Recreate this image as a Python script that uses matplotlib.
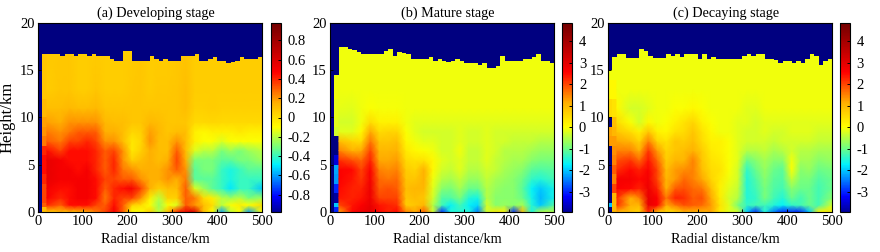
import numpy as np
import matplotlib
matplotlib.use('Agg')
import matplotlib.pyplot as plt
from matplotlib.colors import LinearSegmentedColormap

plt.rcParams['font.family'] = ['Liberation Serif', 'DejaVu Serif']
plt.rcParams['axes.unicode_minus'] = False

N = np.nan
titles = ['(a) Developing stage', '(b) Mature stage', '(c) Decaying stage']

# cell edges of the tables below
x_edges = [0, 10, 20, 40, 60, 80, 100, 120, 140, 160, 180, 200, 220, 240, 260, 280,
           300, 320, 340, 360, 380, 400, 420, 440, 460, 480, 500]
y_edges = [0, 0.5, 1, 2, 3, 4, 5, 6, 7, 8, 9, 10, 12, 14, 18]

# echo top for every 10 km column
top_a = [0, 16.7, 16.7, 16.7, 16.7, 16.5, 16.7, 16.7, 16.5, 16.7,
         16.7, 16.5, 16.7, 16.5, 16.5, 16.5, 16.2, 16.0, 16.0, 17.0,
         17.0, 16.0, 16.0, 16.0, 16.0, 16.5, 16.2, 16.0, 16.2, 16.0,
         16.0, 16.0, 16.5, 16.5, 16.5, 16.7, 16.0, 16.0, 16.2, 16.4,
         16.0, 16.0, 15.8, 15.9, 16.0, 16.4, 16.2, 16.2, 16.2, 16.4]
top_b = [0, 14.5, 17.5, 17.5, 17.3, 17.1, 16.9, 16.7, 16.7, 16.7,
         16.7, 16.7, 17.0, 17.2, 16.5, 16.9, 16.8, 16.7, 16.2, 16.2,
         16.2, 16.2, 16.4, 16.0, 16.2, 16.0, 15.9, 16.0, 16.2, 16.0,
         15.8, 15.8, 15.8, 15.6, 15.8, 15.2, 15.2, 15.4, 16.5, 16.0,
         16.0, 16.0, 16.0, 16.2, 16.2, 16.4, 16.7, 16.0, 16.0, 15.8]
top_c = [15.0, 16.4, 16.7, 16.7, 16.3, 16.3, 16.3, 17.2, 17.0, 16.5,
         16.3, 16.3, 16.3, 16.7, 16.5, 16.7, 16.4, 16.7, 16.7, 16.7,
         16.2, 16.7, 16.2, 16.4, 16.2, 16.2, 16.2, 16.2, 16.2, 16.2,
         16.5, 16.7, 16.5, 16.7, 16.7, 16.2, 16.2, 16.1, 15.8, 16.0,
         16.0, 15.8, 16.0, 15.8, 16.2, 16.7, 16.5, 15.6, 16.0, 16.2]

# rows go from the ground upwards
vals_a = [
    [N, .1, .05, .1, .1, .1, .15, .25, .35, .5, .3, -.1, -.1, .05, -.2, .1, .4, .55, .6, .1, -.1, -.6, -.2, -.1, -.6, -.1],
    [N, .3, .4, .3, .45, .45, .45, .35, .3, .45, .3, .05, 0, -.1, -.25, -.1, -.15, .3, .2, .1, 0, -.2, -.1, -.05, -.1, 0],
    [N, .35, .48, .4, .45, .5, .5, .45, .25, .4, .35, .35, .2, -.05, -.2, .05, .05, .3, .25, 0, -.05, -.2, -.25, -.2, -.3, -.25],
    [N, .35, .5, .45, .45, .5, .5, .45, .3, .4, .45, .5, .35, .15, .05, .1, .1, .3, -.15, -.25, -.35, -.4, -.5, -.4, -.4, -.55],
    [N, .4, .55, .5, .5, .5, .5, .45, .35, .35, .3, .3, .2, .15, .15, .2, .15, .25, -.35, -.35, -.35, -.4, -.45, -.4, -.4, -.4],
    [N, .45, .55, .5, .5, .45, .5, .4, .3, .4, .25, .2, .15, .15, .15, .2, .3, .2, -.35, -.3, -.3, -.4, -.45, -.4, -.35, -.35],
    [N, .45, .55, .5, .45, .45, .45, .4, .3, .4, .2, .05, .1, .15, .1, .15, .35, .15, -.3, -.3, -.3, -.35, -.35, -.3, -.3, -.25],
    [N, .4, .45, .35, .45, .45, .45, .4, .3, .35, .2, -.03, .05, .15, .1, .1, .3, .1, -.15, -.2, -.2, -.3, -.25, -.3, -.25, -.2],
    [N, .25, .3, .25, .35, .35, .4, .35, .2, .2, .1, -.03, .03, .2, .1, .1, .2, .1, -.05, -.1, -.1, -.15, -.1, -.1, -.1, -.1],
    [N, .2, .25, .2, .25, .3, .3, .3, .15, .15, .1, .03, .05, .18, .12, .08, .1, .1, -.05, -.08, -.05, -.05, -.05, -.03, -.05, -.05],
    [N, .18, .18, .15, .2, .2, .2, .2, .12, .1, .1, .08, .08, .12, .1, .08, .08, .08, .02, .02, .03, .02, .02, .02, .02, .02],
    [N, .12, .1, .1, .12, .1, .1, .12, .08, .08, .08, .08, .08, .08, .08, .08, .08, .1, .05, .05, .06, .05, .05, .05, .05, .05],
    [N, .08, .06, .08, .08, .06, .06, .08, .06, .06, .06, .07, .08, .06, .07, .07, .08, .1, .06, .06, .06, .06, .06, .06, .06, .06],
    [N, .08, .07, .07, .07, .06, .06, .06, .06, .06, .06, .06, .07, .06, .06, .06, .07, .08, .06, .06, .06, .06, .06, .06, .06, .06],
]

vals_b = [
    [N, -3, 1.2, 2.5, 2.8, 3, 2.5, 2.3, 2.5, 1.5, 1.2, 1.8, -.3, -3, -1.5, -1.5, -1.5, -2.5, -.3, .3, .2, -3, 1, -1.5, -.5, -.5],
    [N, -2, 2, 2.4, 2.6, 2.9, 2.4, 2.3, 2.2, .7, .8, 1, -.5, -1.3, -1.7, -1.3, -1.7, -1.9, -.3, -.8, -.7, -.8, -.6, -1.5, -2, -1.2],
    [N, -3.9, 2.4, 2.3, 2.4, 2.8, 2, 2, 2, .8, .9, .8, -.3, -1.2, -1.2, -.9, -1.5, -1.6, -.5, -.8, -.8, -.8, -1, -1.6, -2.1, -1.6],
    [N, -3, 2.5, 2.3, 2.3, 2.8, 1.8, 1.9, 1.8, .9, 1, 1, -.2, -.8, -.9, -.6, -1, -1, -.5, -.7, -.8, -.8, -1.1, -1.7, -2, -1.6],
    [N, -2.3, 2.6, 2.4, 2.1, 2.7, 1.7, 1.6, 1.7, .8, .8, 1.1, -.1, -.5, -.6, -.4, -.7, -.7, -.4, -.6, -.7, -.8, -1, -1.4, -1.5, -1.3],
    [N, -2.2, 2.6, 2.5, 2.0, 2.6, 1.5, 1.4, 1.5, .7, .6, 1.1, .1, -.3, -.4, -.2, -.5, -.5, -.3, -.4, -.6, -.7, -.8, -1.1, -1.2, -1.1],
    [N, -3.5, 2.2, 1.9, 1.7, 2.3, 1.2, 1.2, 1.3, .5, .4, .4, .1, -.2, -.3, -.2, -.4, -.4, -.2, -.4, -.5, -.6, -.6, -.8, -.9, -.9],
    [N, N, 1.5, 1.1, 1.2, 2, 1, 1, 1.1, .3, .1, 0, -.1, -.3, -.3, -.1, -.4, -.4, -.2, -.3, -.5, -.5, -.5, -.6, -.7, -.7],
    [N, N, .9, .6, .5, 1.6, .8, .8, .9, .1, -.1, -.2, -.2, -.3, -.3, -.2, -.3, -.3, -.2, -.3, -.3, -.4, -.4, -.4, -.5, -.5],
    [N, -.3, -.2, -.2, .1, 1.2, .5, .6, .6, 0, -.2, -.3, -.3, -.3, -.3, -.2, -.3, -.3, -.2, -.3, -.3, -.3, -.3, -.3, -.3, -.3],
    [N, -.2, -.3, -.3, -.1, .5, .2, .2, .2, -.1, -.2, -.2, -.2, -.2, -.2, -.2, -.2, -.2, -.2, -.2, -.2, -.2, -.2, -.2, -.2, -.2],
    [N, -.15, -.15, -.2, -.1, 0, -.05, -.05, -.05, -.1, -.1, -.1, -.1, -.1, -.1, -.1, -.1, -.1, -.1, -.1, -.1, -.1, -.1, -.1, -.1, -.1],
    [N, -.1, -.1, -.1, -.1, -.1, -.1, -.1, -.1, -.1, -.1, -.1, -.1, -.1, -.1, -.1, -.1, -.1, -.1, -.1, -.1, -.1, -.1, -.1, -.1, -.1],
    [N, -.1, -.1, -.1, -.1, -.1, -.1, -.1, -.1, -.1, -.1, -.1, -.1, -.1, -.1, -.1, -.1, -.1, -.1, -.1, -.1, -.1, -.1, -.1, -.1, -.1],
]

vals_c = [
    [N, 1, 1, .8, .6, 2.2, .8, .5, .5, 1, 1, 1, 1.2, .3, -.2, -.3, -2, -3, -1.5, -2.5, -3, -3, -3, -2, .2, .3],
    [-2, 1, 2.2, 1.1, 1, 2.9, 2.6, 1.2, 1.6, 1.9, 1.8, 1.7, 1.3, .4, -.2, -.9, -1.4, -1.3, -1.3, -1.5, -1.7, -1.4, -1.3, -1, -1.3, -.3],
    [N, 1, 2.2, 1.1, 1.5, 2.9, 2.6, 1.6, 2.3, 2.2, 1.8, 1.9, 1.2, .3, -.3, -.5, -1.5, -1.4, -.9, -1.3, -1.5, -1, -1.3, -1, -1.3, -.8],
    [N, 2, 2.6, 2.5, 2.3, 2.8, 2.3, 1.1, 1.8, 1.9, 1.7, 1.6, .9, .2, -.2, -.4, -1.5, -1.3, -.9, -1.2, -1.3, -.8, -1, -1, -1.3, -1],
    [N, 1.5, 2.7, 2.7, 2.5, 2.7, 2, 1, 1.3, 1.7, 1.5, 1.2, .6, .3, -.1, -.3, -1.5, -1.2, -.8, -1.1, -1.2, -.4, -.9, -.9, -1.2, -1],
    [N, 1.8, 2.2, 2.5, 2.3, 2.6, 2, .9, 1.3, 1.4, 1.5, .9, .5, .4, 0, -.3, -1.4, -1, -.7, -1, -1.1, 0, -.8, -.7, -1, -.9],
    [N, 1.5, 1.9, 2.1, 1.7, 2.4, 1.7, .7, 1, 1, 1.5, .8, .4, .3, 0, -.2, -1, -.8, -.6, -.8, -.8, -.1, -.6, -.6, -.8, -.7],
    [N, 1.4, 1.5, 1.5, 1.1, 2.1, 1.3, .6, .8, .9, 1.1, .7, .3, .2, 0, -.2, -.5, -.5, -.4, -.6, -.5, -.3, -.5, -.5, -.6, -.6],
    [1.3, 1.3, 1.2, 1, .6, 1.5, .6, .4, .8, .7, .9, .5, .2, .2, 0, -.2, -.3, -.3, -.3, -.4, -.3, -.3, -.3, -.3, -.4, -.4],
    [1.2, 1, .8, .5, .2, .8, .2, .1, .4, .5, .8, .4, .1, -.1, -.1, -.2, -.3, -.3, -.2, -.3, -.3, -.2, -.2, -.2, -.3, -.3],
    [N, .9, .5, 0, -.3, .1, -.1, 0, .2, .4, .6, .2, 0, -.1, -.1, -.2, -.2, -.3, -.2, -.2, -.2, -.2, -.2, -.2, -.2, -.2],
    [.5, .4, .1, -.3, -.3, -.2, -.1, -.1, 0, 0, .1, 0, -.1, -.1, -.1, -.1, -.2, -.2, -.1, -.1, -.1, -.1, -.1, -.1, -.1, -.1],
    [.1, .1, -.1, -.1, -.1, -.1, -.1, -.1, -.1, -.1, -.1, -.1, -.1, -.1, -.1, -.1, -.1, -.1, -.1, -.1, -.1, -.1, -.1, -.1, -.1, -.1],
    [-.1, -.1, -.1, -.1, -.1, -.1, -.1, -.1, -.1, -.1, -.1, -.1, -.1, -.1, -.1, -.1, -.1, -.1, -.1, -.1, -.1, -.1, -.1, -.1, -.1, -.1],
]

limits = [(-0.98, 0.98), (-3.95, 4.85), (-3.95, 4.85)]
cb_ticks = [[-0.8, -0.6, -0.4, -0.2, 0, 0.2, 0.4, 0.6, 0.8],
            [-3, -2, -1, 0, 1, 2, 3, 4],
            [-3, -2, -1, 0, 1, 2, 3, 4]]
cb_labels = [['-0.8', '-0.6', '-0.4', '-0.2', '0', '0.2', '0.4', '0.6', '0.8'],
             ['-3', '-2', '-1', '0', '1', '2', '3', '4'],
             ['-3', '-2', '-1', '0', '1', '2', '3', '4']]

navy = (0, 0, 0.5)
cmap = LinearSegmentedColormap.from_list('radar', [
    (0.0, (0, 0, 0.6)), (0.08, (0, 0, 1)), (0.25, (0, 0.95, 1)), (0.34, (0.45, 1, 0.5)),
    (0.45, (1, 1, 0)), (0.58, (1, 0.68, 0)), (0.74, (1, 0, 0)), (0.95, (0.55, 0, 0)), (1.0, (0.45, 0, 0))])
cmap.set_bad(navy)

W, H = 880.0, 252.0
ax_left = [38, 330, 608]
cb_left = [270.5, 562, 839.5]

x_mid = (np.array(x_edges[2:-1]) + np.array(x_edges[3:])) / 2
y_mid = (np.array(y_edges[:-1]) + np.array(y_edges[1:])) / 2
x_mid[0], x_mid[-1] = 20, 500
y_mid[0], y_mid[-1] = 0, 18


def box(x0, w):
    return [x0 / W, 1 - 212 / H, w / W, 189 / H]


fig = plt.figure(figsize=(8.8, 2.52), dpi=100)
panels = [(vals_a, top_a), (vals_b, top_b), (vals_c, top_c)]
for i, (vals, top) in enumerate(panels):
    vals = np.array(vals)
    vmin, vmax = limits[i]
    ax = fig.add_axes(box(ax_left[i], 224))
    # the two columns next to the axis have hard edges, the rest is soft like the original
    ax.pcolormesh(x_edges[:3], y_edges, vals[:, :2], cmap=cmap, vmin=vmin, vmax=vmax)
    mesh = ax.pcolormesh(x_mid, y_mid, vals[:, 2:], cmap=cmap, vmin=vmin, vmax=vmax, shading='gouraud')
    top = np.array(top)
    ax.bar(np.arange(5, 500, 10), 20 - top, bottom=top, width=10, color=navy, linewidth=0)
    ax.set_xlim(0, 500)
    ax.set_ylim(0, 20)
    ax.set_xticks([0, 100, 200, 300, 400, 500])
    ax.set_yticks([0, 5, 10, 15, 20])
    ax.tick_params(direction='in', length=2, width=0.7, labelsize=10.5, pad=2.5)
    ax.set_xlabel('Radial distance/km', fontsize=10.2, labelpad=3, x=0.525)
    if i == 0:
        ax.set_ylabel('Height/km', fontsize=12, labelpad=3)
    ax.set_title(titles[i], fontsize=10.2, pad=4.5, x=0.525)

    cax = fig.add_axes(box(cb_left[i], 10))
    cb = fig.colorbar(mesh, cax=cax)
    cb.set_ticks(cb_ticks[i])
    cb.set_ticklabels(cb_labels[i])
    cb.ax.tick_params(direction='in', length=2, width=0.7, labelsize=10.5, pad=5)

fig.savefig('out.png', dpi=100)
